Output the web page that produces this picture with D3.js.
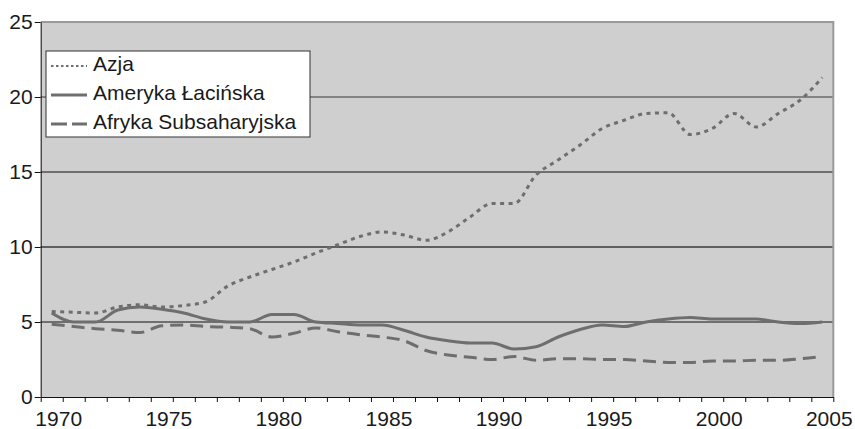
<!DOCTYPE html>
<html>
<head>
<meta charset="utf-8">
<script src="https://cdn.jsdelivr.net/npm/d3@7"></script>
<style>
  body { margin: 0; background: #fff; }
  svg text { font-family: "Liberation Sans", Arial, sans-serif; fill: #1a1a1a; }
</style>
</head>
<body>
<svg id="chart" width="855" height="429"></svg>
<script>
// categories
const years = [1970, 1971, 1972, 1973, 1974, 1975, 1976, 1977, 1978, 1979,
               1980, 1981, 1982, 1983, 1984, 1985, 1986, 1987, 1988, 1989,
               1990, 1991, 1992, 1993, 1994, 1995, 1996, 1997, 1998, 1999,
               2000, 2001, 2002, 2003, 2004, 2005]
const yearLabels = [1970, 1975, 1980, 1985, 1990, 1995, 2000, 2005]
const yTicks = [0, 5, 10, 15, 20, 25]

// series
const azja = [5.7, 5.65, 5.6, 6.0, 6.15, 6.0, 6.1, 6.35, 7.4, 8.0,
              8.5, 9.0, 9.6, 10.15, 10.7, 11.0, 10.8, 10.45, 11.0, 12.0,
              12.9, 12.9, 14.8, 15.8, 16.8, 17.9, 18.45, 18.9, 18.95, 17.5,
              17.9, 18.9, 18.0, 18.9, 19.8, 21.3]
const ameryka = [5.6, 5.0, 5.0, 5.8, 6.0, 5.85, 5.6, 5.2, 5.0, 5.0,
                 5.5, 5.5, 5.0, 4.9, 4.8, 4.8, 4.45, 4.0, 3.75, 3.6,
                 3.6, 3.2, 3.35, 4.0, 4.5, 4.8, 4.7, 5.0, 5.2, 5.3,
                 5.2, 5.2, 5.2, 5.0, 4.9, 5.0]
const afryka = [4.85, 4.7, 4.55, 4.45, 4.3, 4.75, 4.8, 4.7, 4.65, 4.55,
                4.0, 4.25, 4.6, 4.35, 4.15, 4.0, 3.75, 3.1, 2.8, 2.65,
                2.5, 2.7, 2.45, 2.55, 2.55, 2.5, 2.5, 2.4, 2.3, 2.3,
                2.4, 2.4, 2.45, 2.45, 2.55, 2.7]
const seriesNames = ["Azja", "Ameryka Łacińska", "Afryka Subsaharyjska"]

const series = [
  { name: seriesNames[0], values: azja, dash: "4,4.5", width: 3 },
  { name: seriesNames[1], values: ameryka, dash: null, width: 3 },
  { name: seriesNames[2], values: afryka, dash: "13,7", width: 3 }
]

const svg = d3.select('#chart')
const plotLeft = 40.7, plotRight = 833.3, plotTop = 22, plotBottom = 397
const lineColor = "#6e6e6e"
const fontSize = '21px'

const x = d3.scaleLinear()
    .domain([years[0] - 0.5, years[years.length - 1] + 0.5])
    .range([plotLeft, plotRight])

const y = d3.scaleLinear()
    .domain([0, 25])
    .range([plotBottom, plotTop])

// plot background
svg.append('rect')
    .attr('x', plotLeft).attr('y', plotTop)
    .attr('width', plotRight - plotLeft).attr('height', plotBottom - plotTop)
    .attr('fill', '#cfcfcf')

// gridlines
const gridStyle = { 5: ["#111", 1], 10: ["#3a3a3a", 1.3], 15: ["#111", 1], 20: ["#6a6a6a", 1.6] }
svg.append('g')
    .selectAll('line')
    .data(yTicks.filter(d => d > 0 && d < 25))
    .enter()
    .append('line')
    .attr('x1', plotLeft).attr('x2', plotRight)
    .attr('y1', d => y(d)).attr('y2', d => y(d))
    .attr('stroke', d => gridStyle[d][0])
    .attr('stroke-width', d => gridStyle[d][1])

// top and right border
svg.append('path')
    .attr('d', `M${plotLeft},${plotTop}H${plotRight}V${plotBottom}`)
    .attr('fill', 'none')
    .attr('stroke', '#9a9a9a')
    .attr('stroke-width', 2)

// lines
const line = d3.line()
    .x((d, i) => x(years[i]))
    .y(d => y(d))
    .curve(d3.curveMonotoneX)

svg.append('g')
    .selectAll('path')
    .data(series)
    .enter()
    .append('path')
    .attr('d', s => line(s.values))
    .attr('fill', 'none')
    .attr('stroke', lineColor)
    .attr('stroke-width', s => s.width)
    .attr('stroke-dasharray', s => s.dash)

// y axis
const yAxis = svg.append('g')
    .attr('transform', `translate(${plotLeft},0)`)
    .call(d3.axisLeft(y).tickValues(yTicks).tickSize(6).tickPadding(2).tickSizeOuter(0))
yAxis.select('.domain').attr('stroke', '#111')
yAxis.selectAll('.tick line').attr('stroke', '#111')
yAxis.selectAll('text').style('font-size', fontSize).attr('fill', '#1a1a1a')

// x axis: ticks between years
const boundaries = years.concat([years[years.length - 1] + 1]).map(d => d - 0.5)
const xTicks = svg.append('g')
    .attr('transform', `translate(0,${plotBottom})`)
    .call(d3.axisBottom(x).tickValues(boundaries).tickFormat('').tickSize(5).tickSizeOuter(0))
xTicks.select('.domain').attr('stroke', '#111')
xTicks.selectAll('.tick line').attr('stroke', '#111')

const xLabels = svg.append('g')
    .attr('transform', `translate(0,${plotBottom})`)
    .call(d3.axisBottom(x).tickValues(yearLabels).tickFormat(d3.format('d')).tickSize(0).tickPadding(14))
xLabels.select('.domain').remove()
xLabels.selectAll('text')
    .style('font-size', fontSize)
    .attr('fill', '#1a1a1a')
    .attr('dx', 6.5)

// legend
const legend = svg.append('g')
legend.append('rect')
    .attr('x', 46).attr('y', 51)
    .attr('width', 264).attr('height', 86)
    .attr('fill', '#fff')
    .attr('stroke', '#333')
    .attr('stroke-width', 1)

const items = legend.selectAll('g.item')
    .data(series)
    .enter()
    .append('g')
    .attr('class', 'item')
    .attr('transform', (d, i) => `translate(0,${66 + i * 29})`)

items.append('line')
    .attr('x1', 51).attr('x2', 87)
    .attr('y1', 0).attr('y2', 0)
    .attr('stroke', lineColor)
    .attr('stroke-width', (d, i) => i === 0 ? 2.2 : 3)
    .attr('stroke-dasharray', (d, i) => i === 0 ? "2.5,2.5" : (i === 2 ? "16,5" : null))

items.append('text')
    .attr('x', 93)
    .attr('y', 5)
    .style('font-size', fontSize)
    .text(d => d.name)
</script>
</body>
</html>
